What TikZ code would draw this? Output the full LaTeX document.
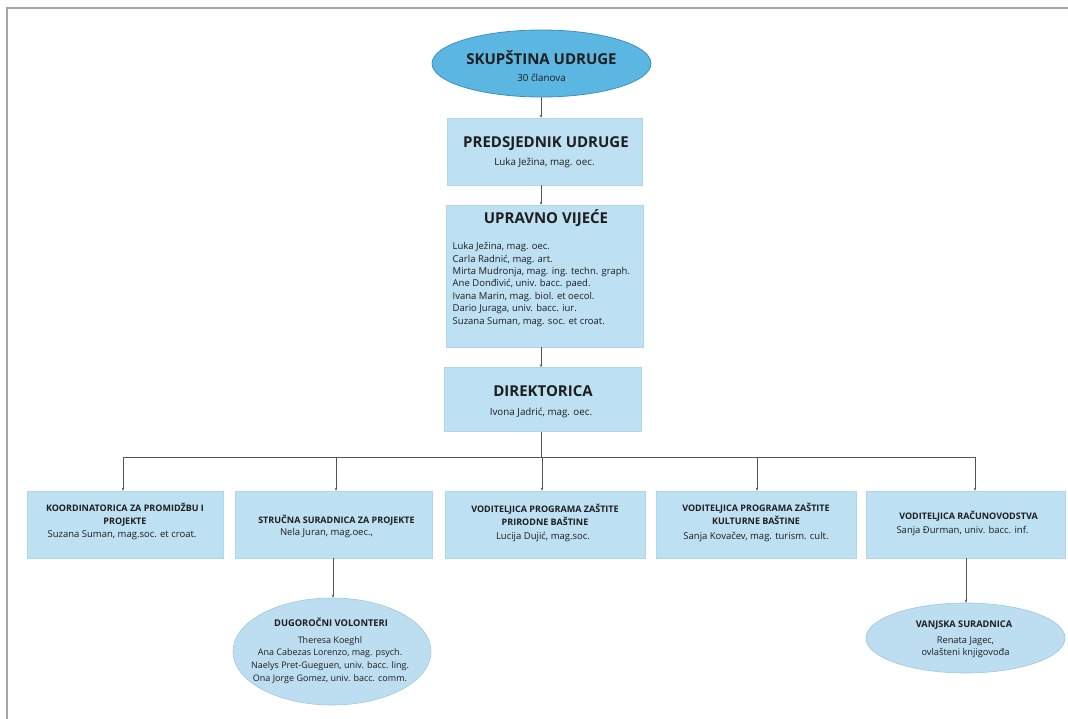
\documentclass[tikz,border=0pt]{standalone}
\usepackage{fontspec}
\setmainfont{Open Sans}
\usetikzlibrary{arrows.meta,shapes.geometric}
\definecolor{boxfill}{HTML}{BDE0F2}
\definecolor{boxline}{HTML}{AFD6EC}
\definecolor{topfill}{HTML}{5CB6E2}
\definecolor{topline}{HTML}{3D8FC2}
\definecolor{ellfill}{HTML}{BDDEF1}
\definecolor{ellline}{HTML}{9CC8E3}
\definecolor{linec}{HTML}{555555}
\definecolor{framec}{HTML}{A6A6A6}
\definecolor{txt}{HTML}{1E1E1E}
\newcommand{\fs}[2]{\fontsize{#1}{#2}\selectfont}
\begin{document}
\begin{tikzpicture}[x=1pt,y=-1pt,
  box/.style={draw=boxline, fill=boxfill, line width=0.5pt, inner sep=0pt},
  topell/.style={ellipse, draw=topline, fill=topfill, line width=0.8pt, inner sep=0pt},
  ell/.style={ellipse, draw=ellline, fill=ellfill, line width=0.6pt, inner sep=0pt},
  arr/.style={draw=linec, line width=0.7pt, -{Stealth[length=3pt,width=2.6pt]}},
  ln/.style={draw=linec, line width=0.7pt},
  lbl/.style={inner sep=0pt, text=txt, align=center},
  bigt/.style={lbl, font=\bfseries\fs{15}{18}},
  subt/.style={lbl, font=\fs{9.8}{12}},
  smallt/.style={lbl, font=\bfseries\fs{9}{13}},
  smallsub/.style={lbl, font=\fs{9.5}{12}},
]
\useasboundingbox (0,0) rectangle (1068,719);
\draw[draw=framec, line width=1.3pt] (7,719) -- (7,8) -- (1068,8);

% top ellipse
\node[topell, minimum width=219pt, minimum height=67pt] (sk) at (541.5,63.5) {};
\node[bigt] (skt) at (541.5,57.5) {SKUPŠTINA UDRUGE};
\node[subt] (sks) at (541.5,78) {30 članova};

% predsjednik
\node[box, minimum width=195pt, minimum height=67pt] (pre) at (544.5,151.5) {};
\node[bigt] (pret) at (546,144) {PREDSJEDNIK UDRUGE};
\node[subt] (pres) at (544.5,163) {Luka Ježina, mag. oec.};

% upravno vijece
\node[box, minimum width=197pt, minimum height=142pt] (uv) at (544.5,276) {};
\node[bigt] (uvt) at (546,218.5) {UPRAVNO VIJEĆE};
\node[lbl, align=left, anchor=west, font=\fs{9.5}{12.4}] (uvl) at (452.5,284.5)
  {Luka Ježina, mag. oec.\\
   Carla Radnić, mag. art.\\
   Mirta Mudronja, mag. ing. techn. graph.\\
   Ane Donđivić, univ. bacc. paed.\\
   Ivana Marin, mag. biol. et oecol.\\
   Dario Juraga, univ. bacc. iur.\\
   Suzana Suman, mag. soc. et croat.};

% direktorica
\node[box, minimum width=197pt, minimum height=64pt] (dir) at (543,399.5) {};
\node[bigt] (dirt) at (543,391) {DIREKTORICA};
\node[subt] (dirs) at (541,413) {Ivona Jadrić, mag. oec.};

\coordinate (ax) at (541,0);
\draw[arr] (sk.south -| ax) -- (ax |- pre.north);
\draw[arr] (pre.south -| ax) -- (ax |- uv.north);
\draw[arr] (uv.south -| ax) -- (ax |- dir.north);

% bottom row boxes
\node[box, minimum width=196pt, minimum height=67pt] (b1) at (125,524.5) {};
\node[box, minimum width=197pt, minimum height=67pt] (b2) at (333.5,524.5) {};
\node[box, minimum width=200pt, minimum height=67pt] (b3) at (545,524.5) {};
\node[box, minimum width=200pt, minimum height=67pt] (b4) at (756,524.5) {};
\node[box, minimum width=199pt, minimum height=67pt] (b5) at (965.5,524.5) {};

\node[smallt] (b1t) at (125,514.5) {KOORDINATORICA ZA PROMIDŽBU I\\PROJEKTE};
\node[smallsub] (b1s) at (122,535) {Suzana Suman, mag.soc. et croat.};
\node[smallt] (b2t) at (336.5,520) {STRUČNA SURADNICA ZA PROJEKTE};
\node[smallsub] (b2s) at (326.5,533.5) {Nela Juran, mag.oec.,};
\node[smallt] (b3t) at (545,515) {VODITELJICA PROGRAMA ZAŠTITE\\PRIRODNE BAŠTINE};
\node[smallsub] (b3s) at (543,537) {Lucija Dujić, mag.soc.};
\node[smallt] (b4t) at (756,514) {VODITELJICA PROGRAMA ZAŠTITE\\KULTURNE BAŠTINE};
\node[smallsub] (b4s) at (756,536.5) {Sanja Kovačev, mag. turism. cult.};
\node[smallt] (b5t) at (968.5,516) {VODITELJICA RAČUNOVODSTVA};
\node[smallsub] (b5s) at (962.5,531) {Sanja Đurman, univ. bacc. inf.};

% bus
\coordinate (bus) at (541,457);
\coordinate (p1) at (123,457);
\coordinate (p2) at (336,457);
\coordinate (p3) at (542,457);
\coordinate (p4) at (757,457);
\coordinate (p5) at (975,457);
\draw[ln] (dir.south -| bus) -- (bus);
\draw[ln] (p1) -- (p5);
\draw[arr] (p1) -- (p1 |- b1.north);
\draw[arr] (p2) -- (p2 |- b2.north);
\draw[arr] (p3) -- (p3 |- b3.north);
\draw[arr] (p4) -- (p4 |- b4.north);
\draw[arr] (p5) -- (p5 |- b5.north);

% bottom ellipses
\node[ell, minimum width=198pt, minimum height=107pt] (dug) at (332,651.5) {};
\node[lbl, font=\bfseries\fs{9.3}{10}] (dugt) at (331,622) {DUGOROČNI VOLONTERI};
\node[lbl, font=\fs{9}{12.7}] (dugl) at (330,660)
  {Theresa Koeghl\\Ana Cabezas Lorenzo, mag. psych.\\Naelys Pret-Gueguen, univ. bacc. ling.\\Ona Jorge Gomez, univ. bacc. comm.};

\node[ell, minimum width=199pt, minimum height=70pt] (van) at (965.5,638) {};
\node[lbl, font=\bfseries\fs{9.2}{10}] (vant) at (964,625) {VANJSKA SURADNICA};
\node[lbl, font=\fs{9.3}{11.7}] (vanl) at (965.5,647.5) {Renata Jagec,\\ovlašteni knjigovođa};

\coordinate (d2) at (333,558);
\coordinate (d5) at (966,558);
\draw[arr] (d2) -- (d2 |- dug.north);
\draw[arr] (d5) -- (d5 |- van.north);
\end{tikzpicture}
\end{document}
